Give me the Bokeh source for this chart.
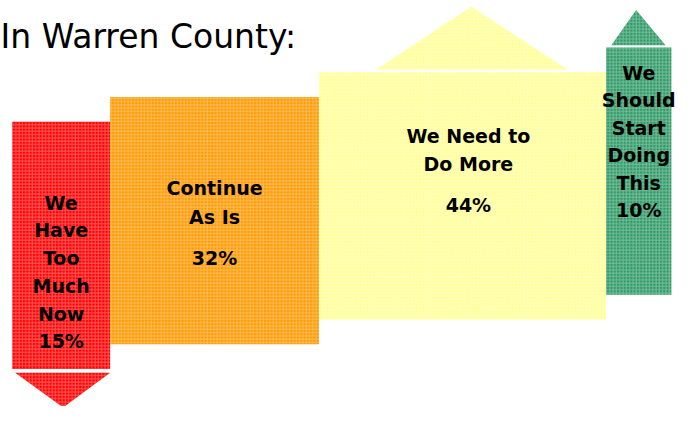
from bokeh.plotting import figure
from bokeh.models import Range1d, ColumnDataSource
from bokeh.core.properties import value
from bokeh.embed import file_html
from bokeh.resources import INLINE

# ---- data ----
categories = ["We Have Too Much Now", "Continue As Is", "We Need to Do More", "We Should Start Doing This"]
values = [15, 32, 44, 10]
label_lines = [["We", "Have", "Too", "Much", "Now"],
               ["Continue", "As Is"],
               ["We Need to", "Do More"],
               ["We", "Should", "Start", "Doing", "This"]]
title_text = "In Warren County:"

# ---- styles / layout ----
colors = ["#FF0000", "#FF9900", "#FFFF99", "#2E9966"]
FONT = "DejaVu Sans"
top0, step, box_h = 126, 25.7, 257
first_line_y = [210, 195, 141, 75]
line_gap = [29, 30, 29, 28.7]
pct_gap = [28, 43, 43, 28]
text_dx = [0, 0, 0.9, 0]
px_per_pct, x0 = 6.68, 12

lefts, rights = [], []
acc = 0
for v in values:
    lefts.append(acc)
    acc += v
    rights.append(acc)
tops = [top0 - step * i for i in range(len(values))]
bottoms = [t + box_h for t in tops]

p = figure(width=680, height=406,
           x_range=Range1d(-x0 / px_per_pct, (696 - x0) / px_per_pct), y_range=Range1d(422, 0),
           output_backend="svg", toolbar_location=None, min_border=0,
           x_axis_type=None, y_axis_type=None)
p.grid.visible = False
p.outline_line_color = None
p.background_fill_color = "white"
p.border_fill_color = "white"

hatch = dict(hatch_pattern="+", hatch_color="white", hatch_scale=3.3, hatch_weight=1, hatch_alpha=0.35)

src = ColumnDataSource(dict(left=lefts, right=rights, top=tops, bottom=bottoms, color=colors, cat=categories))
p.quad(left="left", right="right", top="top", bottom="bottom", fill_color="color", line_color=None,
       source=src, **hatch)

# arrow heads / roof
xs, ys, cs = [], [], []
l, r = lefts[0], rights[0]
w = r - l
xs.append([l + 0.03 * w, r, l + 0.52 * w]); ys.append([bottoms[0] + 4, bottoms[0] + 4, bottoms[0] + 40]); cs.append(colors[0])
l, r = lefts[2], rights[2]
w = r - l
xs.append([l + 0.20 * w, l + 0.865 * w, l + 0.53 * w]); ys.append([tops[2] - 3, tops[2] - 3, tops[2] - 68]); cs.append(colors[2])
l, r = lefts[3], rights[3]
w = r - l
xs.append([l + 0.08 * w, l + 0.91 * w, l + 0.46 * w]); ys.append([tops[3] - 2.5, tops[3] - 2.5, tops[3] - 39]); cs.append(colors[3])
p.patches(xs=xs, ys=ys, fill_color=cs, line_color=None, **hatch)

# labels
tx, ty, tt = [], [], []
for i, lines in enumerate(label_lines):
    cx = (lefts[i] + rights[i]) / 2 + text_dx[i]
    y = first_line_y[i]
    for ln in lines:
        tx.append(cx); ty.append(y); tt.append(ln)
        y += line_gap[i]
    y += pct_gap[i] - line_gap[i]
    tx.append(cx); ty.append(y); tt.append(f"{values[i]}%")

p.text(x=tx, y=ty, text=tt, text_align="center", text_baseline="middle",
       text_font=value(FONT), text_font_style="bold", text_font_size="19px", text_color="black")

p.text(x=[-x0 / px_per_pct], y=[37], text=[title_text], text_align="left", text_baseline="alphabetic",
       text_font=value(FONT), text_font_size="33px", text_color="black")

open("out.html", "w").write(file_html(p, INLINE))
